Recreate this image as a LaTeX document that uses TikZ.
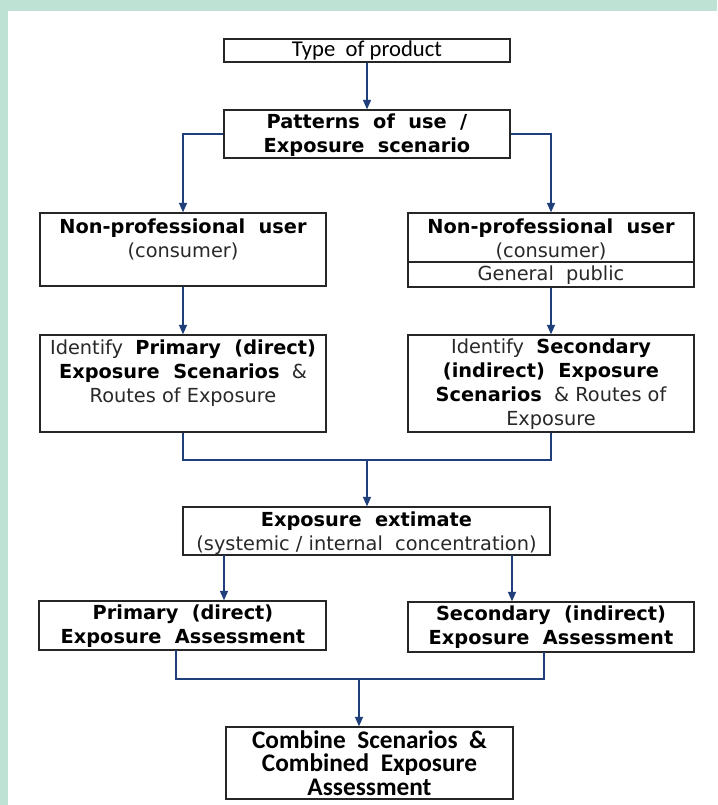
\documentclass[tikz,border=0pt]{standalone}
\usepackage{fontspec}
\setmainfont{DejaVu Sans}
\newfontfamily\calfont{Carlito}
\usetikzlibrary{arrows.meta,calc}
\definecolor{mint}{RGB}{190,226,211}
\definecolor{arrblue}{RGB}{31,63,122}
\definecolor{txtgray}{RGB}{40,40,40}
\begin{document}
\begin{tikzpicture}[x=0.75pt,y=-0.75pt,
  box/.style={draw=black!85,line width=1.1pt,inner sep=0pt,minimum width=214.5pt},
  txt/.style={align=center,font=\fontsize{14.5}{18}\selectfont,text=txtgray,inner sep=0pt},
  caltxt/.style={align=center,text=black,inner sep=0pt},
  arr/.style={draw=arrblue,line width=1pt,-{Triangle[width=6pt,length=7pt]}},
  ln/.style={draw=arrblue,line width=1pt}]
\fill[mint] (0,0) rectangle (717,805);
\fill[white] (8,11) rectangle (717,805);
\useasboundingbox (0,0) rectangle (717,805);

% boxes
\node[box,minimum height=17.25pt] (type) at (367,50.5) {};
\node[box,minimum height=36pt] (pat) at (367,134) {};
\node[box,minimum height=54.75pt] (np1) at (183,249.5) {};
\node[box,minimum height=55.5pt] (np2) at (551,250) {};
\node[box,minimum height=72.75pt] (id1) at (183,383.5) {};
\node[box,minimum height=72.75pt] (id2) at (551,383.5) {};
\node[box,minimum height=36pt,minimum width=275.25pt] (est) at (366.5,531) {};
\node[box,minimum height=36.75pt,minimum width=215.25pt] (p1) at (182.5,625.5) {};
\node[box,minimum height=37.5pt] (p2) at (551,627) {};
\node[box,minimum height=54pt,minimum width=215.25pt] (comb) at (369.5,763) {};
\draw[draw=black!85,line width=1pt] (np2.west |- 0,262) -- (np2.east |- 0,262);

% texts
\node[caltxt,font=\calfont\fontsize{17}{20}\selectfont] (ttype) at (367,50) {Type~~of product};
\node[txt] (tpat) at (367,135.5) {\textbf{\color{black}Patterns~~of~~use~~/}\\\textbf{\color{black}Exposure~~scenario}};
\node[txt] (tnp1) at (183,239.5) {\textbf{\color{black}Non-professional~~user}\\(consumer)};
\node[txt] (tnp2) at (551,239.5) {\textbf{\color{black}Non-professional~~user}\\(consumer)};
\node[txt] (tgp) at (551,275) {General~~public};
\node[txt] (tid1) at (183,373) {Identify~~\textbf{\color{black}Primary~~(direct)}\\\textbf{\color{black}Exposure~~Scenarios}~~\&\\Routes of Exposure};
\node[txt] (tid2) at (551,384.5) {Identify~~\textbf{\color{black}Secondary}\\\textbf{\color{black}(indirect)~~Exposure}\\\textbf{\color{black}Scenarios}~~\& Routes of\\Exposure};
\node[txt] (test) at (366.5,533) {\textbf{\color{black}Exposure~~extimate}\\(systemic / internal~~concentration)};
\node[txt] (tp1) at (183,626.5) {\textbf{\color{black}Primary~~(direct)}\\\textbf{\color{black}Exposure~~Assessment}};
\node[txt] (tp2) at (551,627) {\textbf{\color{black}Secondary~~(indirect)}\\\textbf{\color{black}Exposure~~Assessment}};
\node[caltxt,font=\calfont\bfseries\fontsize{19}{17.6}\selectfont] (tcomb) at (369.5,763) {Combine~~Scenarios~~\&\\Combined~~Exposure\\Assessment};

% connectors
\draw[arr] (type) -- (pat);
\draw[arr] (pat.west) -| (np1.north);
\draw[arr] (pat.east) -| (np2.north);
\draw[arr] (np1) -- (id1);
\draw[arr] (np2) -- (id2);
\coordinate (j1) at (367,460);
\draw[ln] (id1.south) |- (j1) -| (id2.south);
\draw[arr] (j1) -- (j1 |- est.north);
\coordinate (e1) at (224,555);
\coordinate (e2) at (512,555);
\draw[arr] (e1) -- (e1 |- p1.north);
\draw[arr] (e2) -- (e2 |- p2.north);
\coordinate (b1) at (176,650);
\coordinate (b2) at (544,652);
\coordinate (j2) at (359,679);
\draw[ln] (b1) |- (j2) -| (b2);
\draw[arr] (j2) -- (j2 |- comb.north);
\end{tikzpicture}
\end{document}
